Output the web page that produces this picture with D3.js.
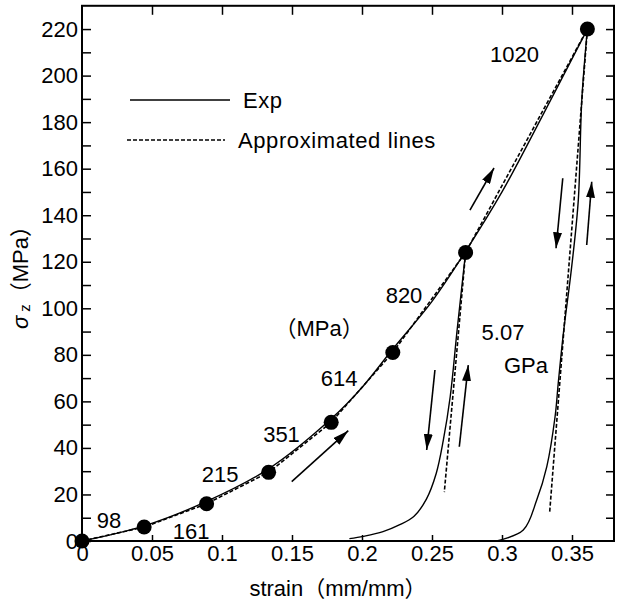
<!DOCTYPE html>
<html>
<head>
<meta charset="utf-8">
<script src="https://cdn.jsdelivr.net/npm/d3@7"></script>
<style>
  body { margin: 0; background: #fff; }
  text { font-family: "Liberation Sans", Arial, "Noto Sans CJK JP", sans-serif; fill: #000; }
</style>
</head>
<body>
<div id="chart"></div>
<script>
// measured points (strain, MPa)
var markerStrain = [0, 0.0444, 0.089, 0.1333, 0.178, 0.222, 0.274, 0.361],
	markerStress = [0, 6, 16, 29.5, 51, 81, 124, 220];

// experimental curve: loading branch
var loadStrain = [0, 0.0444, 0.089, 0.1333, 0.178, 0.2, 0.222, 0.25, 0.274, 0.30, 0.33, 0.361],
	loadStress = [0, 6.5, 17, 31, 52.5, 66, 82.5, 103, 124.5, 150, 184, 220];

// unloading / reloading branches
var unload1Strain = [0.274, 0.268, 0.263, 0.258, 0.253, 0.246, 0.237, 0.227, 0.215, 0.201, 0.191],
	unload1Stress = [124, 91, 62, 43, 29, 18, 10.5, 7, 4, 2, 1];
var unload2Strain = [0.361, 0.357, 0.3545, 0.3498, 0.3438, 0.3402, 0.3379, 0.332, 0.3248, 0.3152, 0.2962],
	unload2Stress = [220, 189.5, 146.5, 118, 89, 68, 53.4, 32, 17.6, 4.7, 0];

// approximated straight lines for unloading
var approx1 = [[0.274, 124], [0.2588, 21]],
	approx2 = [[0.361, 220], [0.334, 12]];

// tangent moduli labels
var modLabels = ["98", "161", "215", "351", "614", "820", "1020", "(MPa)"],
	modLabelX = [0.0193, 0.0779, 0.0986, 0.1425, 0.1836, 0.23, 0.309, 0.1693],
	modLabelY = [9, 3.9, 28.4, 45.6, 70, 105.7, 209, 91.5];

// arrows: [x1, y1, x2, y2] in data units, head at the second point
var arrows = [
	[0.1498, 25.5, 0.1902, 47.4],
	[0.2771, 142.2, 0.2943, 160.3],
	[0.2521, 73.5, 0.2462, 39.1],
	[0.2695, 40.5, 0.2759, 75.6],
	[0.3434, 155.9, 0.3386, 125.8],
	[0.3605, 127.2, 0.3641, 154.4]
];

var xTicks = [0, 0.05, 0.1, 0.15, 0.2, 0.25, 0.3, 0.35],
	yTicks = d3.range(0, 221, 20);

var svgContainer,
	width = 621,
	height = 608,
	fontSize = 22;

function zip(xs, ys) {
	return xs.map((v, i) => [v, ys[i]]);
}

function onLoad() {
	svgContainer = d3.select("#chart")
	.append("svg")
	.attr("width", width)
	.attr("height", height);

	var x = d3.scaleLinear().domain([0, 0.38]).range([82, 82 + 0.38 * 1400]);
	var y = d3.scaleLinear().domain([0, 230]).range([541, 541 - 230 * 2.327]);
	var x0 = x.range()[0], x1 = x.range()[1], y0 = y.range()[0], y1 = y.range()[1];

	// tick marks, all pointing inward
	svgContainer.append("g")
	.attr("transform", "translate(" + x0 + ",0)")
	.call(d3.axisRight(y).tickValues(d3.range(0, 230, 10)).tickSize(9).tickFormat(""));
	svgContainer.append("g")
	.attr("transform", "translate(" + x1 + ",0)")
	.call(d3.axisLeft(y).tickValues(d3.range(10, 230, 10)).tickSize(8).tickFormat(""));
	svgContainer.append("g")
	.attr("transform", "translate(0," + y0 + ")")
	.call(d3.axisTop(x).tickValues(xTicks.slice(1)).tickSize(6).tickFormat(""));
	svgContainer.append("g")
	.attr("transform", "translate(0," + y1 + ")")
	.call(d3.axisBottom(x).tickValues(xTicks.slice(1)).tickSize(9).tickFormat(""));
	svgContainer.selectAll(".domain").remove();
	svgContainer.selectAll(".tick line").attr("stroke", "#000").attr("stroke-width", 1.5);

	// tick labels
	var yLab = svgContainer.append("g")
	.attr("transform", "translate(" + x0 + ",0)")
	.call(d3.axisLeft(y).tickValues(yTicks).tickSize(0).tickPadding(4).tickFormat(d3.format("d")));
	var xLab = svgContainer.append("g")
	.attr("transform", "translate(0," + y0 + ")")
	.call(d3.axisBottom(x).tickValues(xTicks).tickSize(0).tickPadding(4).tickFormat(d => d === 0 ? "0" : String(d)));
	[yLab, xLab].forEach(g => {
		g.select(".domain").remove();
		g.selectAll("text").attr("font-size", fontSize).attr("font-family", null);
	});

	// frame
	svgContainer.append("rect")
	.attr("x", x0).attr("y", y1)
	.attr("width", x1 - x0).attr("height", y0 - y1)
	.attr("fill", "none").attr("stroke", "#000").attr("stroke-width", 2);

	// curves
	var line = d3.line().x(d => x(d[0])).y(d => y(d[1]));
	var smooth = d3.line().x(d => x(d[0])).y(d => y(d[1])).curve(d3.curveCatmullRom.alpha(0.5));

	svgContainer.append("path")
	.attr("d", line(zip(markerStrain, markerStress)))
	.attr("fill", "none").attr("stroke", "#000").attr("stroke-width", 1.6)
	.attr("stroke-dasharray", "4,2");
	[approx1, approx2].forEach(a => {
		svgContainer.append("path")
		.attr("d", line(a))
		.attr("fill", "none").attr("stroke", "#000").attr("stroke-width", 1.6)
		.attr("stroke-dasharray", "4,2");
	});

	[zip(loadStrain, loadStress), zip(unload1Strain, unload1Stress), zip(unload2Strain, unload2Stress)].forEach(c => {
		svgContainer.append("path")
		.attr("d", smooth(c))
		.attr("fill", "none").attr("stroke", "#000").attr("stroke-width", 1.4);
	});

	// markers
	svgContainer.selectAll("circle.pt")
	.data(zip(markerStrain, markerStress))
	.enter().append("circle")
	.attr("class", "pt")
	.attr("cx", d => x(d[0]))
	.attr("cy", d => y(d[1]))
	.attr("r", 7.5)
	.attr("fill", "#000");

	// arrow head
	svgContainer.append("defs").append("marker")
	.attr("id", "head")
	.attr("viewBox", "0 0 16 9")
	.attr("refX", 16).attr("refY", 4.5)
	.attr("markerWidth", 16).attr("markerHeight", 9)
	.attr("markerUnits", "userSpaceOnUse")
	.attr("orient", "auto")
	.append("path").attr("d", "M0,0 L16,4.5 L0,9 Z").attr("fill", "#000");

	arrows.forEach(a => {
		svgContainer.append("line")
		.attr("x1", x(a[0])).attr("y1", y(a[1]))
		.attr("x2", x(a[2])).attr("y2", y(a[3]))
		.attr("stroke", "#000").attr("stroke-width", 1.6)
		.attr("marker-end", "url(#head)");
	});

	// modulus labels
	modLabels.forEach((t, i) => {
		svgContainer.append("text")
		.attr("x", x(modLabelX[i]))
		.attr("y", y(modLabelY[i]))
		.attr("text-anchor", "middle")
		.attr("dominant-baseline", "central")
		.attr("font-size", fontSize)
		.text(t === "(MPa)" ? "（MPa）" : t);
	});
	svgContainer.append("text")
	.attr("x", x(0.3007)).attr("y", y(89.4))
	.attr("text-anchor", "middle").attr("dominant-baseline", "central")
	.attr("font-size", fontSize).text("5.07");
	svgContainer.append("text")
	.attr("x", x(0.3171)).attr("y", y(75.6))
	.attr("text-anchor", "middle").attr("dominant-baseline", "central")
	.attr("font-size", fontSize).text("GPa");

	// legend
	svgContainer.append("line")
	.attr("x1", 130).attr("x2", 230).attr("y1", 100).attr("y2", 100)
	.attr("stroke", "#000").attr("stroke-width", 1.4);
	svgContainer.append("text")
	.attr("x", 243).attr("y", 100).attr("dominant-baseline", "central")
	.attr("font-size", fontSize).attr("letter-spacing", 0.6).text("Exp");
	svgContainer.append("line")
	.attr("x1", 127).attr("x2", 225).attr("y1", 140).attr("y2", 140)
	.attr("stroke", "#000").attr("stroke-width", 1.4).attr("stroke-dasharray", "4,2");
	svgContainer.append("text")
	.attr("x", 238).attr("y", 140).attr("dominant-baseline", "central")
	.attr("font-size", fontSize).attr("letter-spacing", 0.6).text("Approximated lines");

	// axis titles
	svgContainer.append("text")
	.attr("x", (x0 + x1) / 2 - 10).attr("y", 588)
	.attr("text-anchor", "middle").attr("dominant-baseline", "central")
	.attr("font-size", fontSize).text("strain（mm/mm）");

	var yt = svgContainer.append("text")
	.attr("transform", "translate(20,272) rotate(-90)")
	.attr("text-anchor", "middle").attr("dominant-baseline", "central")
	.attr("font-size", fontSize);
	yt.append("tspan").attr("font-style", "italic").text("σ");
	yt.append("tspan").attr("font-size", 15).attr("dx", 4).attr("dy", 4).text("z");
	yt.append("tspan").attr("dy", -4).text("（MPa）");
}

onLoad();
</script>
</body>
</html>
